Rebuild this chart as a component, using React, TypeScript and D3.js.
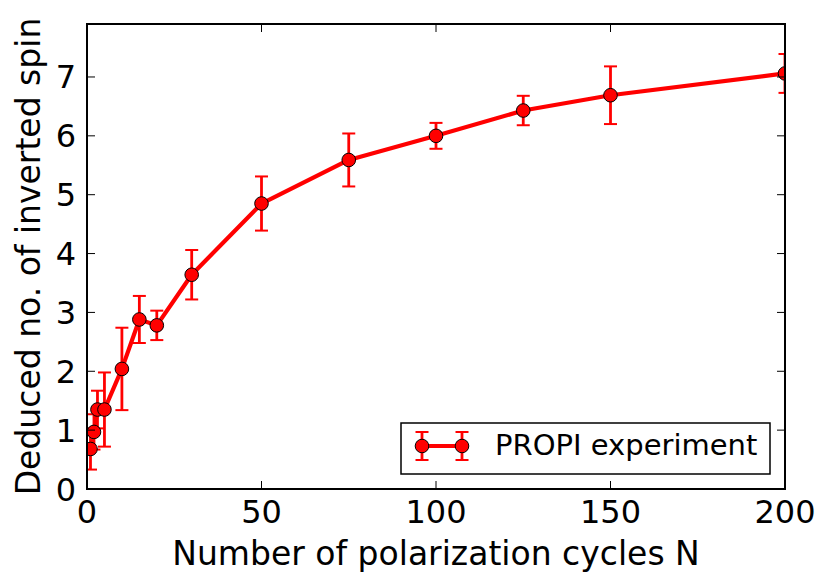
import React from "react";
import { scaleLinear, line } from "d3";

// polarization cycles N and the deduced number of inverted spins
const cycles = [1, 2, 3, 5, 10, 15, 20, 30, 50, 75, 100, 125, 150, 200];
const spins = [0.68, 0.97, 1.35, 1.35, 2.04, 2.88, 2.78, 3.64, 4.85, 5.59, 6.0, 6.43, 6.69, 7.06];
const spinErr = [0.35, 0.3, 0.32, 0.63, 0.7, 0.4, 0.25, 0.42, 0.46, 0.45, 0.22, 0.25, 0.49, 0.33];

const xTicks = [0, 50, 100, 150, 200];
const yTicks = [0, 1, 2, 3, 4, 5, 6, 7];

const W = 832;
const H = 588;
const plot = { left: 87, right: 785, top: 24, bottom: 489 };
const FONT = "DejaVu Sans, sans-serif";
const RED = "#ff0000";

export default function App() {
  const x = scaleLinear().domain([0, 200]).range([plot.left, plot.right]);
  const y = scaleLinear().domain([0, 7.9]).range([plot.bottom, plot.top]);

  const pts = cycles.map((c, i) => ({ c, v: spins[i], e: spinErr[i] }));
  const path = line<{ c: number; v: number }>()
    .x((d) => x(d.c))
    .y((d) => y(d.v))(pts);

  const capW = 6.5;
  const tickLen = 8;

  // legend geometry
  const lg = { x: 401, y: 423, w: 369, h: 51 };
  const lgY = lg.y + 23;
  const lgX1 = 422;
  const lgX2 = 462;

  return (
    <svg
      width={W}
      height={H}
      style={{ position: "absolute", left: 0, top: 0, background: "#fff" }}
      fontFamily={FONT}
    >
      <defs>
        <clipPath id="plotClip">
          <rect
            x={plot.left}
            y={plot.top}
            width={plot.right - plot.left}
            height={plot.bottom - plot.top}
          />
        </clipPath>
      </defs>

      <g clipPath="url(#plotClip)">
        {/* error bars */}
        {pts.map((d, i) => (
          <g key={"e" + i} stroke={RED} strokeWidth={2.8}>
            <line x1={x(d.c)} x2={x(d.c)} y1={y(d.v - d.e)} y2={y(d.v + d.e)} />
            <line x1={x(d.c) - capW} x2={x(d.c) + capW} y1={y(d.v - d.e)} y2={y(d.v - d.e)} strokeWidth={2} />
            <line x1={x(d.c) - capW} x2={x(d.c) + capW} y1={y(d.v + d.e)} y2={y(d.v + d.e)} strokeWidth={2} />
          </g>
        ))}
        <path d={path ?? ""} fill="none" stroke={RED} strokeWidth={4.2} strokeLinejoin="round" />
        {pts.map((d, i) => (
          <circle key={"m" + i} cx={x(d.c)} cy={y(d.v)} r={6.8} fill={RED} stroke="#000" strokeWidth={1} />
        ))}
      </g>

      {/* ticks on all four sides, pointing inward */}
      <g stroke="#000" strokeWidth={1}>
        {xTicks.map((t) => (
          <g key={"xt" + t}>
            <line x1={x(t)} x2={x(t)} y1={plot.bottom} y2={plot.bottom - tickLen} />
            <line x1={x(t)} x2={x(t)} y1={plot.top} y2={plot.top + tickLen} />
          </g>
        ))}
        {yTicks.map((t) => (
          <g key={"yt" + t}>
            <line x1={plot.left} x2={plot.left + tickLen} y1={y(t)} y2={y(t)} />
            <line x1={plot.right} x2={plot.right - tickLen} y1={y(t)} y2={y(t)} />
          </g>
        ))}
      </g>

      <rect
        x={plot.left}
        y={plot.top}
        width={plot.right - plot.left}
        height={plot.bottom - plot.top}
        fill="none"
        stroke="#000"
        strokeWidth={2}
      />

      {/* tick labels */}
      <g fontSize={32} fill="#000">
        {xTicks.map((t) => (
          <text key={"xl" + t} x={x(t)} y={523} textAnchor="middle">
            {t}
          </text>
        ))}
        {yTicks.map((t) => (
          <text key={"yl" + t} x={plot.left - 11} y={y(t)} dy="0.36em" textAnchor="end">
            {t}
          </text>
        ))}
      </g>

      {/* axis titles */}
      <text x={(plot.left + plot.right) / 2} y={565} textAnchor="middle" fontSize={33}>
        Number of polarization cycles N
      </text>
      <text
        transform={`translate(40, ${(plot.top + plot.bottom) / 2}) rotate(-90)`}
        textAnchor="middle"
        fontSize={33}
      >
        Deduced no. of inverted spin
      </text>

      {/* legend */}
      <rect x={lg.x} y={lg.y} width={lg.w} height={lg.h} fill="#fff" stroke="#000" strokeWidth={1.5} />
      <g stroke={RED} strokeWidth={2.8}>
        {[lgX1, lgX2].map((lx) => (
          <g key={"lge" + lx}>
            <line x1={lx} x2={lx} y1={lgY - 14} y2={lgY + 14} />
            <line x1={lx - capW} x2={lx + capW} y1={lgY - 14} y2={lgY - 14} strokeWidth={2} />
            <line x1={lx - capW} x2={lx + capW} y1={lgY + 14} y2={lgY + 14} strokeWidth={2} />
          </g>
        ))}
      </g>
      <line x1={lgX1} x2={lgX2} y1={lgY} y2={lgY} stroke={RED} strokeWidth={4.2} />
      {[lgX1, lgX2].map((lx) => (
        <circle key={"lgm" + lx} cx={lx} cy={lgY} r={6.8} fill={RED} stroke="#000" strokeWidth={1} />
      ))}
      <text x={495} y={455} fontSize={29}>
        PROPI experiment
      </text>
    </svg>
  );
}
